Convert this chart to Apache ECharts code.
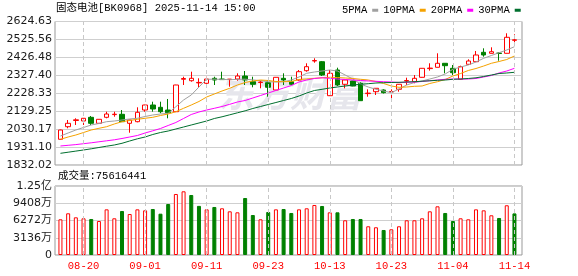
<!DOCTYPE html>
<html><head><meta charset="utf-8">
<script src="https://cdn.jsdelivr.net/npm/echarts@6/dist/echarts.min.js"></script>
<style>html,body{margin:0;padding:0;background:#fff}#c{width:578px;height:276px}</style>
</head><body><div id="c"></div>
<script>
const dates = ['08-15','08-18','08-19','08-20','08-21','08-22','08-25','08-26','08-27','08-28','08-29','09-01','09-02','09-03','09-04','09-05','09-08','09-09','09-10','09-11','09-12','09-15','09-16','09-17','09-18','09-19','09-22','09-23','09-24','09-25','09-26','09-29','09-30','10-09','10-10','10-13','10-14','10-15','10-16','10-17','10-20','10-21','10-22','10-23','10-24','10-27','10-28','10-29','10-30','10-31','11-03','11-04','11-05','11-06','11-07','11-10','11-11','11-12','11-13','11-14'];
const openP = [1974.0,2043.6,2077.8,2075.1,2095.5,2062.3,2095.5,2110.4,2112.1,2062.3,2071.2,2135.8,2163.4,2150.7,2135.8,2126.4,2305.4,2297.6,2285.5,2283.3,2310.9,2307.0,2303.7,2307.0,2323.6,2292.1,2287.2,2286.6,2246.3,2310.9,2292.1,2301.5,2352.9,2406.5,2402.6,2214.8,2356.7,2277.8,2296.0,2283.3,2226.4,2236.9,2246.3,2235.2,2250.1,2296.0,2292.1,2316.4,2364.5,2371.7,2393.8,2366.1,2305.4,2388.2,2402.6,2454.5,2449.0,2450.6,2449.0,2520.8];
const closeP = [2025.3,2062.3,2081.7,2090.0,2062.3,2084.4,2113.7,2112.6,2071.2,2080.6,2123.1,2163.4,2141.3,2126.4,2120.9,2273.9,2309.8,2310.9,2288.2,2307.0,2301.5,2303.7,2306.5,2323.6,2301.5,2277.8,2290.5,2261.2,2316.4,2301.5,2277.8,2347.4,2375.0,2409.2,2329.1,2338.5,2273.9,2301.5,2268.4,2187.2,2229.1,2255.7,2231.4,2238.0,2277.8,2298.7,2310.9,2366.1,2367.2,2393.8,2380.5,2341.8,2375.0,2406.5,2439.6,2439.6,2457.8,2447.9,2537.4,2523.5];
const lowP = [1972.0,2034.7,2053.0,2053.0,2053.0,2061.0,2090.0,2098.8,2070.0,2010.4,2067.9,2126.4,2126.4,2117.6,2090.0,2125.0,2273.9,2292.1,2261.2,2261.2,2273.9,2301.5,2264.5,2297.6,2273.9,2261.2,2255.7,2209.3,2245.0,2273.9,2273.9,2297.6,2347.4,2397.1,2323.6,2213.0,2268.4,2255.7,2267.0,2186.0,2209.3,2218.7,2227.0,2191.0,2236.9,2273.9,2283.3,2315.0,2353.2,2371.0,2338.5,2329.1,2304.0,2384.4,2402.0,2430.2,2448.0,2408.1,2448.0,2500.4];
const highP = [2027.0,2080.6,2090.0,2091.0,2102.7,2085.0,2126.4,2126.4,2135.8,2081.5,2150.7,2164.5,2181.7,2181.7,2196.6,2275.0,2319.7,2347.4,2310.9,2319.7,2319.7,2347.4,2307.0,2338.5,2351.2,2319.7,2297.6,2301.5,2317.0,2338.5,2319.7,2356.7,2393.8,2421.4,2406.5,2356.7,2369.5,2302.5,2297.0,2288.8,2250.1,2257.0,2250.1,2250.1,2279.0,2314.2,2329.1,2367.0,2393.8,2449.0,2394.5,2384.4,2380.5,2415.8,2461.7,2476.6,2482.1,2454.5,2559.5,2553.9];
const volume = [64900000,75800000,68500000,66700000,65450000,61800000,83000000,66700000,80000000,74500000,83000000,81200000,83600000,75100000,92700000,110900000,115800000,109100000,89300000,83000000,87300000,84900000,79400000,77600000,103600000,72700000,64900000,78200000,83000000,83600000,76400000,83000000,84900000,90900000,89100000,77600000,77600000,63100000,65450000,65450000,52200000,50400000,45450000,46700000,52200000,63100000,63100000,66700000,79400000,88500000,76400000,61800000,66700000,64900000,83000000,81200000,72200000,67300000,90400000,75616441];
const volDir = [1,1,1,1,-1,1,1,1,-1,1,1,1,-1,-1,-1,1,1,-1,-1,1,-1,1,1,1,-1,-1,1,-1,1,-1,-1,1,1,1,-1,1,-1,1,-1,-1,1,1,-1,1,1,1,1,1,1,1,-1,-1,1,1,1,1,1,-1,1,-1];
const ma5 = [1992.2,2008.8,2025.3,2039.2,2053.0,2061.2,2071.2,2075.0,2080.6,2086.1,2090.0,2099.9,2108.2,2113.7,2117.6,2154.0,2191.0,2218.7,2262.8,2305.4,2306.0,2305.0,2303.0,2305.0,2306.0,2302.0,2298.0,2292.0,2290.0,2292.1,2301.5,2318.1,2338.5,2345.7,2351.2,2356.7,2351.2,2329.1,2307.0,2279.4,2262.8,2250.1,2240.8,2231.4,2251.8,2273.9,2287.7,2296.0,2307.0,2318.1,2334.7,2360.6,2373.3,2384.4,2400.9,2421.4,2436.8,2452.3,2467.2,2485.4];
const ma10 = [1974.0,1986.7,1997.7,2011.5,2025.3,2034.7,2043.6,2058.5,2071.2,2077.8,2084.4,2090.0,2095.5,2105.4,2113.7,2126.4,2145.2,2163.4,2182.8,2207.6,2224.2,2240.8,2255.7,2273.9,2287.7,2296.0,2301.5,2298.8,2293.2,2292.1,2293.2,2304.3,2307.0,2310.9,2313.7,2316.4,2315.3,2312.6,2309.8,2305.4,2301.5,2293.2,2282.2,2268.4,2261.2,2262.8,2266.7,2268.4,2282.2,2292.1,2304.3,2323.6,2337.4,2354.0,2365.0,2378.8,2393.8,2403.7,2414.7,2434.1];
const ma20 = [1937.0,1940.8,1944.7,1949.7,1954.6,1960.2,1965.7,1971.2,1978.4,1986.7,1995.0,2008.8,2020.9,2033.6,2050.2,2066.8,2088.9,2111.0,2124.8,2135.8,2145.2,2155.1,2167.3,2180.0,2188.3,2202.1,2215.9,2229.7,2243.5,2257.3,2271.1,2290.5,2301.5,2309.8,2313.7,2310.9,2307.0,2304.3,2301.5,2298.8,2296.0,2294.3,2292.1,2290.5,2287.7,2288.8,2290.5,2293.2,2297.6,2301.5,2305.4,2307.0,2307.0,2307.0,2309.8,2318.1,2326.4,2340.2,2351.2,2366.1];
const ma30 = [1896.6,1902.7,1908.8,1914.9,1921.5,1928.7,1935.9,1942.5,1951.9,1964.6,1976.7,1986.7,2000.5,2011.5,2019.8,2030.9,2041.9,2053.0,2064.0,2075.0,2088.9,2098.3,2109.3,2120.3,2131.4,2144.1,2155.1,2166.2,2177.2,2188.3,2199.3,2213.1,2229.7,2243.5,2250.1,2257.3,2262.8,2268.4,2273.9,2277.8,2281.1,2284.9,2286.6,2287.7,2288.8,2290.5,2292.1,2294.9,2297.1,2299.9,2301.5,2305.4,2307.0,2309.8,2313.7,2320.8,2329.1,2337.4,2340.2,2344.0];
const priceTicks = [1832.02,1931.10,2030.17,2129.25,2228.33,2327.40,2426.48,2525.56,2624.63];
const volTickLabels = ['0','3136万','6272万','9408万','1.25亿'];
const volMax = 125440000;
const volStep = 31360000;
const labelDates = ['08-20','09-01','09-11','09-23','10-13','10-23','11-04','11-14'];
const maNames = ['5PMA','10PMA','20PMA','30PMA'];
const titleText = '固态电池[BK0968] 2025-11-14 15:00';
const volTitle = '成交量:75616441';

const MONO = '"Liberation Mono","Noto Sans CJK SC",monospace';
const NUM = '"DejaVu Sans","Noto Sans CJK SC",sans-serif';
const UP = '#ff0000', DOWN = '#008000';
const maColors = ['#a0a0a0','#f5a200','#ff00ff','#006f2e'];
const maData = [ma5, ma10, ma20, ma30];

const chart = echarts.init(document.getElementById('c'));
const vline = {
  silent: true, symbol: 'none', animation: false,
  label: {show: false},
  lineStyle: {color: '#c8c8c8', type: [4, 3], width: 1},
  emphasis: {disabled: true},
  data: labelDates.map(d => ({xAxis: d}))
};
const option = {
  animation: false,
  backgroundColor: '#fff',
  legend: {
    data: maNames, left: 337, top: 0, align: 'right', icon: 'rect',
    itemWidth: 6, itemHeight: 3, itemGap: 5, selectedMode: false,
    textStyle: {fontFamily: MONO, fontSize: 10.5, color: '#000'}
  },
  grid: [
    {left: 55, top: 21.5, width: 467, height: 143.5, show: true, borderColor: '#999', borderWidth: 1, backgroundColor: 'transparent'},
    {left: 56.6, top: 21.5, width: 461.7, height: 143.5},
    {left: 55, top: 186, width: 467, height: 69, show: true, borderColor: '#999', borderWidth: 1, backgroundColor: 'transparent'},
    {left: 56.6, top: 186, width: 461.7, height: 69}
  ],
  xAxis: [
    {gridIndex: 0, type: 'value', min: 0, max: 1, show: false},
    {gridIndex: 1, type: 'category', data: dates, show: false},
    {gridIndex: 2, type: 'value', min: 0, max: 1, show: false},
    {gridIndex: 3, type: 'category', data: dates,
      axisLine: {show: false}, axisTick: {show: false}, splitLine: {show: false},
      axisLabel: {interval: (i, v) => labelDates.includes(v), color: '#ff0000', fontFamily: MONO, fontSize: 10.5, margin: 6}}
  ],
  yAxis: [
    {gridIndex: 0, type: 'value', min: priceTicks[0], max: priceTicks[priceTicks.length - 1],
      axisLine: {show: false}, axisTick: {show: false, customValues: priceTicks},
      axisLabel: {customValues: priceTicks, formatter: v => v.toFixed(2), fontFamily: NUM, fontSize: 11, color: '#1a1a1a', margin: 3},
      splitLine: {show: true, lineStyle: {color: '#cfcfcf', width: 1}}},
    {gridIndex: 1, type: 'value', min: priceTicks[0], max: priceTicks[priceTicks.length - 1], show: false, splitLine: {show: false}},
    {gridIndex: 2, type: 'value', min: 0, max: volMax, interval: volStep,
      axisLine: {show: false}, axisTick: {show: false},
      axisLabel: {formatter: v => volTickLabels[Math.round(v / volStep)], fontFamily: NUM, fontSize: 11, color: '#1a1a1a', margin: 3},
      splitLine: {show: true, lineStyle: {color: '#cfcfcf', width: 1}}},
    {gridIndex: 3, type: 'value', min: 0, max: volMax, show: false, splitLine: {show: false}}
  ],
  graphic: [
    {type: 'text', left: 56, top: 3, z: 10, style: {text: titleText, fontFamily: MONO, fontSize: 10.5, fill: '#000'}},
    {type: 'text', left: 58, top: 171, z: 10, style: {text: volTitle, fontFamily: MONO, fontSize: 10.5, fill: '#000'}},
    {type: 'text', x: 290, y: 93, z: 1, silent: true,
      style: {text: '东方财富', fontFamily: '"Noto Sans CJK SC"', fontSize: 36, fontWeight: 'bold', fontStyle: 'italic', fill: '#e6e6ec', align: 'center', verticalAlign: 'middle'}}
  ],
  series: [
    {type: 'candlestick', name: 'K', xAxisIndex: 1, yAxisIndex: 1, barWidth: 5,
      data: dates.map((d, i) => [openP[i], closeP[i], lowP[i], highP[i]]),
      itemStyle: {color: '#fff', color0: DOWN, borderColor: UP, borderColor0: DOWN, borderWidth: 1},
      markLine: vline, z: 3},
    ...maNames.map((n, k) => ({
      type: 'line', name: n, xAxisIndex: 1, yAxisIndex: 1, data: maData[k],
      showSymbol: false, symbol: 'none', smooth: false, z: 4,
      itemStyle: {color: maColors[k]}, lineStyle: {color: maColors[k], width: 1}
    })),
    {type: 'bar', name: 'VOL', xAxisIndex: 3, yAxisIndex: 3, barWidth: 4,
      data: volume.map((v, i) => ({value: v, itemStyle: volDir[i] > 0 ? {color: '#fff', borderColor: UP, borderWidth: 1} : {color: DOWN, borderColor: DOWN, borderWidth: 1}})),
      markLine: vline}
  ]
};
chart.setOption(option);
</script></body></html>
